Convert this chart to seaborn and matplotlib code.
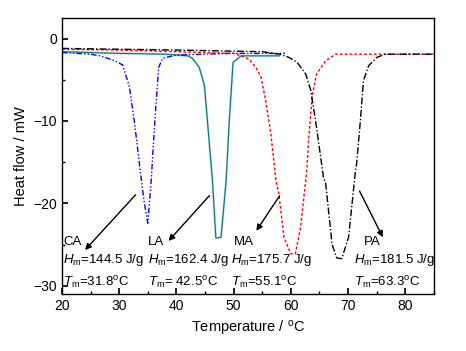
import numpy as np
import pandas as pd
import matplotlib
matplotlib.use("Agg")
import matplotlib.pyplot as plt
import seaborn as sns
from matplotlib.ticker import MultipleLocator

# curvas DSC (temperatura en C, flujo en mW)
ca_t = [20, 25, 26.6, 28.9, 30.6, 31.8, 32.7, 33.6, 34.3, 35.0, 35.6, 36.2, 36.9, 37.6, 40, 45, 50, 55, 59]
ca_h = [-1.7, -1.9, -2.1, -2.6, -3.2, -5.9, -10.3, -15.6, -19.5, -22.4, -17.2, -10.3, -3.5, -2.4, -2.0, -1.9, -1.8, -1.8, -1.8]

la_t = [20, 30, 38, 42, 42.8, 44, 44.9, 46.3, 46.9, 47.8, 48.7, 49.2, 49.9, 51.3, 55, 58]
la_h = [-1.6, -1.8, -1.9, -2.1, -2.4, -3.5, -5.7, -17.2, -24.2, -24.1, -17.2, -10.5, -2.9, -2.1, -2.1, -2.1]

ma_t = [20, 30, 40, 50, 51.3, 52.7, 53.9, 54.8, 55.6, 56.5, 57.4, 57.9, 58.8, 60.0, 60.8, 61.7, 62.8, 63.1, 63.7, 64.5, 66.1, 67.8, 75, 85]
ma_h = [-1.3, -1.4, -1.6, -1.8, -2.1, -2.5, -3.5, -4.7, -7.5, -11.5, -17.2, -18.8, -24.1, -26.1, -26.1, -22.9, -16.0, -12.4, -7.1, -4.3, -2.7, -1.9, -1.9, -1.9]

pa_t = [20, 40, 55, 58, 59.7, 61.1, 62.6, 63.5, 64.5, 65.7, 66.1, 67.2, 68.0, 68.9, 70.1, 71.3, 71.5, 72.2, 72.7, 73.6, 75, 76.5, 85]
pa_h = [-1.2, -1.4, -1.6, -1.9, -2.3, -2.9, -4.3, -6.3, -10.8, -16.8, -17.6, -24.9, -26.6, -26.7, -24.1, -16.0, -15.2, -9.6, -5.1, -3.3, -2.3, -1.9, -1.9]

nombres = ["CA", "LA", "MA", "PA"]
entalpias = ["144.5", "162.4", "175.7", "181.5"]
tfusion = ["31.8", " 42.5", "55.1", "63.3"]

sns.set_theme(style="ticks")
plt.rcParams["font.family"] = ["Liberation Sans", "DejaVu Sans"]
plt.rcParams["mathtext.fontset"] = "custom"
plt.rcParams["mathtext.rm"] = "Liberation Sans"
plt.rcParams["mathtext.it"] = "Liberation Sans:italic"
for k in ["text.color", "axes.labelcolor", "xtick.color", "ytick.color", "axes.edgecolor"]:
    plt.rcParams[k] = "black"

fig = plt.figure(figsize=(4.66, 3.51), dpi=100)
ax = fig.add_axes([0.133, 0.162, 0.798, 0.787])

# teal con borde claro
sns.lineplot(x=la_t, y=la_h, ax=ax, color="#c4d6d6", lw=1.6, sort=False)
sns.lineplot(x=la_t, y=la_h, ax=ax, color="#007b7b", lw=0.8, sort=False)
sns.lineplot(x=ca_t, y=ca_h, ax=ax, color="blue", lw=1.0, sort=False)
ax.lines[-1].set_linestyle((0, (4, 1.5, 1, 1.5, 1, 1.5)))
sns.lineplot(x=ma_t, y=ma_h, ax=ax, color="red", lw=1.0, sort=False)
ax.lines[-1].set_linestyle((0, (2, 1.5)))
sns.lineplot(x=pa_t, y=pa_h, ax=ax, color="black", lw=1.0, sort=False)
ax.lines[-1].set_linestyle((0, (5, 1.5, 1, 1.5)))

ax.set_xlim(20, 85)
ax.set_ylim(-31, 2.5)
ax.xaxis.set_major_locator(MultipleLocator(10))
ax.xaxis.set_minor_locator(MultipleLocator(5))
ax.yaxis.set_major_locator(MultipleLocator(10))
ax.yaxis.set_minor_locator(MultipleLocator(5))
ax.tick_params(which="both", direction="in", labelsize=10)
ax.tick_params(which="major", length=4)
ax.tick_params(which="minor", length=2.5)
for s in ax.spines.values():
    s.set_linewidth(1.0)
ax.set_xlabel("Temperature / $^\\mathrm{o}$C", fontsize=10.5)
ax.set_ylabel("Heat flow / mW", fontsize=10.5)

# etiquetas y flechas
pos_nombre = [20.3, 35.0, 50.1, 72.7]
pos_linea = [20.2, 35.0, 49.6, 71.0]
flechas = [((33.2, -18.7), (23.7, -25.9)),
           ((46.1, -18.8), (38.3, -24.8)),
           ((58.3, -18.8), (53.7, -23.6)),
           ((71.8, -18.2), (76.3, -24.4))]
for i in range(4):
    ax.text(pos_nombre[i], -24.7, nombres[i], fontsize=9.5, va="center")
    ax.text(pos_linea[i], -26.8, "$H_\\mathrm{m}$=" + entalpias[i] + " J/g", fontsize=9.5, va="center")
    ax.text(pos_linea[i], -29.6, "$T_\\mathrm{m}$=" + tfusion[i] + "$^\\mathrm{o}$C", fontsize=9.5, va="center")
    ini, fin = flechas[i]
    ax.annotate("", xy=fin, xytext=ini,
                arrowprops=dict(arrowstyle="-|>", color="black", lw=1.0, mutation_scale=9))

fig.savefig("out.png", dpi=100)
